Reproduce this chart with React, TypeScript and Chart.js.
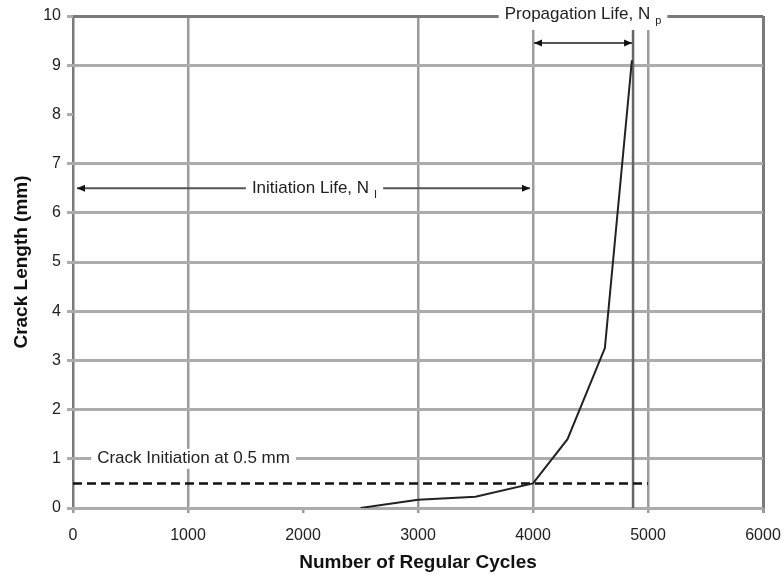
import React, { useEffect, useRef } from "react";
import { Chart, registerables } from "chart.js";

Chart.register(...registerables);

// Crack growth curve
const cycles = [2500, 3000, 3500, 4000, 4300, 4625, 4860];
const crackLength = [0, 0.17, 0.23, 0.5, 1.4, 3.25, 9.1];

// Reference lines
const initiationLevel = 0.5; // mm
const initiationLineEnd = 5000; // cycles
const initiationCycles = 4000;
const failureCycles = 4870;

// Annotation arrows (y levels in mm)
const initiationArrowY = 6.5;
const propagationArrowY = 9.45;

// Axis ranges / ticks
const xMin = 0, xMax = 6000, xStep = 1000;
const yMin = 0, yMax = 10, yStep = 1;
const hiddenXGrid = [2000];
const hiddenYGrid = [8];

const FONT = "'Liberation Sans', Arial, sans-serif";
const ANN_SIZE = 17;

function arrowHead(ctx: CanvasRenderingContext2D, x: number, y: number, dir: number) {
  ctx.beginPath();
  ctx.moveTo(x, y);
  ctx.lineTo(x - dir * 8, y - 3.5);
  ctx.lineTo(x - dir * 8, y + 3.5);
  ctx.closePath();
  ctx.fill();
}

function drawLabel(
  ctx: CanvasRenderingContext2D,
  main: string,
  sub: string,
  cx: number | null,
  left: number | null,
  cy: number,
  boxTop?: number,
  boxBottom?: number
) {
  ctx.font = `${ANN_SIZE}px ${FONT}`;
  const w1 = ctx.measureText(main).width;
  ctx.font = `11px ${FONT}`;
  const w2 = sub ? ctx.measureText(sub).width + 5 : 0;
  const total = w1 + w2;
  const x0 = left !== null ? left : (cx as number) - total / 2;
  ctx.fillStyle = "#ffffff";
  const top = boxTop !== undefined ? boxTop : cy - 10;
  const bottom = boxBottom !== undefined ? boxBottom : cy + 10;
  ctx.fillRect(x0 - 6, top, total + 12, bottom - top);
  ctx.fillStyle = "#222222";
  ctx.textBaseline = "middle";
  ctx.textAlign = "left";
  ctx.font = `${ANN_SIZE}px ${FONT}`;
  ctx.fillText(main, x0, cy);
  if (sub) {
    ctx.font = `11px ${FONT}`;
    ctx.fillText(sub, x0 + w1 + 5, cy + 7);
  }
}

const annotationPlugin = {
  id: "annots",
  afterDatasetsDraw(chart: any) {
    const { ctx, scales } = chart;
    const xs = scales.x, ys = scales.y;
    ctx.save();
    ctx.strokeStyle = "#555555";
    ctx.fillStyle = "#111111";
    ctx.lineWidth = 2;

    // Initiation life arrow
    const ya = ys.getPixelForValue(initiationArrowY);
    const xa0 = xs.getPixelForValue(xMin) + 4;
    const xa1 = xs.getPixelForValue(initiationCycles) - 3;
    ctx.beginPath();
    ctx.moveTo(xa0, ya);
    ctx.lineTo(xa1, ya);
    ctx.stroke();
    ctx.fillStyle = "#111111";
    arrowHead(ctx, xa0, ya, -1);
    arrowHead(ctx, xa1, ya, 1);

    // Propagation life arrow
    const yp = ys.getPixelForValue(propagationArrowY);
    const xp0 = xs.getPixelForValue(initiationCycles) + 1;
    const xp1 = xs.getPixelForValue(failureCycles) - 1;
    ctx.strokeStyle = "#555555";
    ctx.beginPath();
    ctx.moveTo(xp0, yp);
    ctx.lineTo(xp1, yp);
    ctx.stroke();
    ctx.fillStyle = "#111111";
    arrowHead(ctx, xp0, yp, -1);
    arrowHead(ctx, xp1, yp, 1);

    // Labels
    drawLabel(ctx, "Initiation Life, N", "I", xs.getPixelForValue(2100), null, ya);
    drawLabel(
      ctx,
      "Propagation Life, N",
      "p",
      (xs.getPixelForValue(initiationCycles) + xs.getPixelForValue(failureCycles)) / 2,
      null,
      ys.getPixelForValue(yMax) - 2,
      0,
      ys.getPixelForValue(yMax) + 14
    );
    drawLabel(ctx, "Crack Initiation at 0.5 mm", "", null, xs.getPixelForValue(210), ys.getPixelForValue(1));
    ctx.restore();
  },
};

export default function App() {
  const ref = useRef<HTMLCanvasElement | null>(null);
  useEffect(() => {
    if (!ref.current) return;
    const gridX = (c: any) => {
      const v = c.tick ? c.tick.value : null;
      if (hiddenXGrid.includes(v)) return "rgba(0,0,0,0)";
      if (v === xMin || v === xMax) return "#7a7a7a";
      return "#9c9c9c";
    };
    const gridY = (c: any) => {
      const v = c.tick ? c.tick.value : null;
      if (hiddenYGrid.includes(v)) return "rgba(0,0,0,0)";
      if (v === yMax) return "#7a7a7a";
      return "#acacac";
    };
    const chart = new Chart(ref.current, {
      type: "scatter",
      data: {
        datasets: [
          {
            label: "Crack growth",
            data: cycles.map((x, i) => ({ x, y: crackLength[i] })),
            showLine: true,
            borderColor: "#222222",
            borderWidth: 2,
            pointRadius: 0,
            tension: 0,
          },
          {
            label: "Crack initiation",
            data: [
              { x: xMin, y: initiationLevel },
              { x: initiationLineEnd, y: initiationLevel },
            ],
            showLine: true,
            borderColor: "#111111",
            borderWidth: 2.5,
            borderDash: [9, 5],
            pointRadius: 0,
          },
          {
            label: "Failure",
            data: [
              { x: failureCycles, y: yMin },
              { x: failureCycles, y: yMax },
            ],
            showLine: true,
            borderColor: "#666666",
            borderWidth: 2.5,
            pointRadius: 0,
          },
        ],
      },
      options: {
        animation: false,
        responsive: false,
        layout: { padding: { top: 16, right: 21, left: 0, bottom: 0 } },
        plugins: { legend: { display: false }, tooltip: { enabled: false } },
        scales: {
          x: {
            type: "linear",
            min: xMin,
            max: xMax,
            ticks: {
              stepSize: xStep,
              color: "#222",
              font: { family: FONT, size: 16 },
              padding: 13,
              maxRotation: 0,
              callback: (v: any) => String(v),
            },
            grid: { color: gridX, lineWidth: (c: any) => (c.tick && c.tick.value === xMax ? 3 : 2.5), tickLength: 5, tickColor: "#9c9c9c" },
            border: { display: false },
            title: {
              display: true,
              text: "Number of Regular Cycles",
              color: "#111",
              font: { family: FONT, size: 19, weight: "bold" },
              padding: { top: 0, bottom: 5 },
            },
            afterFit: (s: any) => {
              s.height = 71;
              s.paddingLeft = 0;
              s.paddingRight = 0;
            },
          },
          y: {
            type: "linear",
            min: yMin,
            max: yMax,
            ticks: { stepSize: yStep, color: "#222", font: { family: FONT, size: 16 }, padding: 6, callback: (v: any) => String(v) },
            grid: { color: gridY, lineWidth: 3, tickLength: 6, tickColor: "#acacac" },
            border: { display: false },
            title: {
              display: true,
              text: "Crack Length (mm)",
              color: "#111",
              font: { family: FONT, size: 19, weight: "bold" },
              padding: { top: 10, bottom: 0 },
            },
            afterFit: (s: any) => {
              s.width = 73;
              s.paddingTop = 0;
              s.paddingBottom = 0;
            },
          },
        },
      },
      plugins: [annotationPlugin],
    });
    return () => chart.destroy();
  }, []);
  return (
    <div style={{ position: "absolute", left: 0, top: 0, width: 784, height: 579, background: "#fff" }}>
      <canvas ref={ref} width={784} height={579} />
    </div>
  );
}
